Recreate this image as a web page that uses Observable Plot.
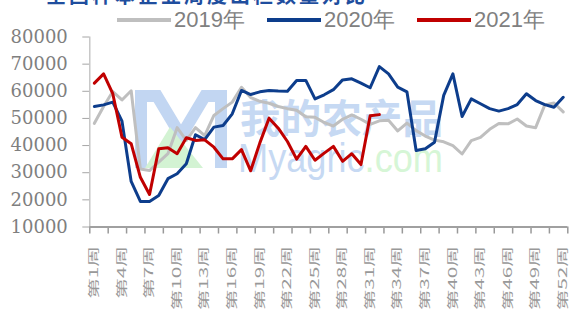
<!DOCTYPE html>
<html><head><meta charset="utf-8">
<script src="https://cdn.jsdelivr.net/npm/d3@7"></script>
<script src="https://cdn.jsdelivr.net/npm/@observablehq/plot@0.6"></script>
<style>
html,body{margin:0;padding:0;background:#fff;width:574px;height:311px;overflow:hidden}
#head{position:relative;height:30px;width:574px}
#title{position:absolute;left:46px;top:-15px;font:bold 20px/20px "Noto Sans CJK SC";color:#1f4e9e;white-space:nowrap;letter-spacing:3px}
.lg{position:absolute;top:8px;height:24px;font:22px/24px "Liberation Sans";color:#808080;display:flex;align-items:center;white-space:nowrap}
.lg i{display:inline-block;width:54px;height:4px;margin-right:3px}
#chart svg{overflow:visible;display:block}
</style></head><body>
<div id="head"><div id="title">全国样本企业周度出栏数量对比</div></div>
<div id="chart"></div>
<script>
const weeks = d3.range(1, 53);
const v2019 = [48200,54400,59900,56800,60200,31400,30800,33900,37000,46600,
  41900,46600,43700,51100,53600,56000,61500,57700,56300,55600,
  54400,53600,53000,50600,50400,48500,47200,49700,51300,49700,
  47800,49100,49300,45400,48300,45500,43500,42000,41400,40000,
  36900,41800,43000,46000,48100,48000,49800,47200,46600,55000,
  55700,52400];
const v2020 = [54400,55000,56000,49000,26800,19400,19400,21600,27800,29600,
  33300,44000,42200,46800,47400,51700,60300,58800,59800,60300,
  60100,60000,64000,64000,57200,58700,60600,64200,64600,63000,
  61300,69100,66400,61500,59800,38200,38800,41200,58500,66400,
  50700,57200,55400,53600,52700,53600,55100,59100,56600,55100,
  54100,57800];
const v2021 = [63000,66400,59100,43100,40700,28300,22000,38800,39200,37000,
  42900,41900,42100,39400,35100,35100,38500,30700,41000,50100,
  46400,41500,35000,39700,34600,37200,39700,34200,37000,33000,
  51000,51400];
const seriesNames = ["2019年", "2020年", "2021年"];
const seriesColors = ["#bfbfbf", "#0d3d8c", "#c00000"];
const yTicks = [10000, 20000, 30000, 40000, 50000, 60000, 70000, 80000];
const labelWeeks = d3.range(1, 53, 3);
const tickBounds = d3.range(0.5, 53, 2);

const series = [v2019, v2020, v2021];
const rows = series.flatMap((vals, s) => vals.map((v, i) => ({week: weeks[i], value: v, year: seriesNames[s]})));

// legend
const legendLeft = [117, 267, 417];
const head = document.getElementById("head");
seriesNames.forEach((n, i) => {
  const d = document.createElement("div");
  d.className = "lg";
  d.style.left = legendLeft[i] + "px";
  d.innerHTML = `<i style="background:${seriesColors[i]}"></i>${n}`;
  head.appendChild(d);
});

// watermark (decoration)
function watermark() {
  const g = d3.create("svg:g").attr("text-anchor", "start");
  g.append("path").attr("d", "M141,138 V66 H157 L181,106 L205,66 H221 V138")
    .attr("fill", "none").attr("stroke", "#c2d6f2").attr("stroke-width", 12).attr("stroke-linejoin", "miter");
  g.append("path").attr("d", "M145,138 L170,97 L203,138 Z").attr("fill", "#d3f3d3");
  g.append("text").attr("x", 240).attr("y", 103).attr("font-size", 40).attr("font-weight", "bold")
    .attr("text-anchor", "start").attr("textLength", 203).attr("lengthAdjust", "spacingAndGlyphs")
    .attr("font-family", "Noto Sans CJK SC").attr("fill", "#c6d9f3").text("我的农产品");
  const t = g.append("text").attr("x", 238).attr("y", 142).attr("font-size", 40).attr("text-anchor", "start")
    .attr("font-family", "Liberation Sans").attr("textLength", 205).attr("lengthAdjust", "spacingAndGlyphs");
  t.append("tspan").attr("fill", "#c6d9f3").text("Myagric");
  t.append("tspan").attr("fill", "#d6f6d6").text(".com");
  return g.node();
}

const plot = Plot.plot({
  width: 574, height: 281,
  marginLeft: 89.3, marginRight: 6.7, marginTop: 6.5, marginBottom: 84.5,
  x: {type: "linear", domain: [0.5, 52.5], axis: null},
  y: {domain: [10000, 80000], axis: null},
  style: {background: "#fff", overflow: "visible"},
  marks: [
    watermark,
    Plot.axisY(yTicks, {anchor: "left", tickSize: 7, tickPadding: 15, stroke: "#a6a6a6", fill: "#7f7f7f",
      fontSize: 18, fontFamily: "DejaVu Serif", label: null, tickFormat: d => String(d)}),
    Plot.axisX(tickBounds, {anchor: "bottom", tickSize: 7, stroke: "#999", strokeWidth: 1.5, tickFormat: () => "", label: null}),
    Plot.ruleX([0.5], {stroke: "#bfbfbf", strokeWidth: 1.3}),
    Plot.ruleY([10000], {stroke: "#a0a0a0", strokeWidth: 2}),
    Plot.text(labelWeeks, {x: d => d, text: d => `第${d}周`, frameAnchor: "bottom", dy: 19, rotate: -90,
      textAnchor: "end", lineAnchor: "middle", fontSize: 11.5, fontFamily: "Noto Sans CJK SC", fill: "#999"}),
    Plot.line(rows, {x: "week", y: "value", z: "year", stroke: "year", strokeWidth: 3}),
  ],
  color: {domain: seriesNames, range: seriesColors}
});
// stretch the rotated week labels along their reading direction, as in the reference
d3.select(plot).selectAll("text").filter(function() { return /^第\d+周$/.test(this.textContent); })
  .attr("transform", function() { return (this.getAttribute("transform") || "") + " scale(1.8,1)"; });
document.getElementById("chart").appendChild(plot);
</script>
</body></html>
